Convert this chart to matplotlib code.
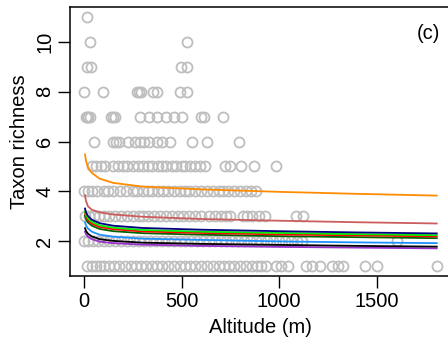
import matplotlib
matplotlib.use("Agg")
import matplotlib.pyplot as plt

plt.rcParams["font.family"] = ["Liberation Sans", "DejaVu Sans"]

# observed taxon richness per site (altitude in m), grouped by richness value
alt_r1 = [14, 40, 60, 80, 100, 130, 155, 180, 210, 240, 265, 290, 320, 350, 375, 400, 430,
          460, 490, 520, 545, 570, 600, 630, 660, 690, 720, 745, 770, 800, 830, 860, 885,
          910, 935, 985, 1010, 1045, 1140, 1170, 1210, 1270, 1300, 1330, 1443, 1505, 1809]
alt_r2 = [0, 20, 45, 70, 100, 130, 160, 190, 220, 250, 280, 310, 340, 370, 400, 430, 460,
          490, 520, 550, 580, 610, 640, 670, 700, 730, 760, 790, 820, 850, 880, 910, 940,
          970, 1000, 1030, 1060, 1090, 1120, 1603]
alt_r3 = [5, 25, 50, 75, 100, 130, 160, 190, 220, 250, 280, 300, 330, 360, 390, 420, 450,
          480, 510, 540, 570, 600, 640, 670, 700, 730, 750, 815, 835, 860, 895, 930, 1085, 1125]
alt_r4 = [0, 20, 40, 65, 100, 125, 150, 185, 215, 250, 270, 300, 330, 350, 380, 405, 430,
          460, 490, 520, 540, 570, 600, 630, 660, 690, 715, 740, 770, 800, 830, 855, 880]
alt_r5 = [40, 60, 85, 110, 150, 175, 200, 220, 250, 275, 300, 330, 350, 380, 400, 420, 450,
          470, 500, 520, 545, 570, 595, 620, 723, 749, 804, 870, 985]
alt_r6 = [52, 151, 165, 177, 228, 260, 289, 310, 331, 375, 400, 443, 555, 632, 795]
alt_r7 = [8, 15, 22, 30, 140, 150, 160, 289, 331, 375, 418, 460, 504, 600, 615, 712]
alt_r8 = [0, 96, 270, 280, 290, 355, 372, 492, 530]
alt_r9 = [17, 34, 495, 530]
alt_r10 = [31, 526]
alt_r11 = [14]

# fitted curves
alt_fit = [5, 10, 20, 40, 80, 150, 300, 600, 1000, 1400, 1809]
fit_orange = [5.48, 5.23, 4.98, 4.74, 4.51, 4.34, 4.19, 4.08, 3.98, 3.90, 3.83]
fit_indianred = [3.84, 3.62, 3.40, 3.26, 3.16, 3.07, 2.98, 2.89, 2.82, 2.76, 2.71]
fit_navy = [3.31, 3.16, 3.01, 2.86, 2.72, 2.62, 2.53, 2.46, 2.40, 2.35, 2.31]
fit_lime = [3.20, 3.06, 2.91, 2.77, 2.63, 2.54, 2.45, 2.38, 2.33, 2.28, 2.24]
fit_red = [3.12, 2.98, 2.84, 2.70, 2.57, 2.48, 2.39, 2.33, 2.27, 2.23, 2.19]
fit_darkgreen = [3.02, 2.89, 2.75, 2.62, 2.49, 2.40, 2.32, 2.26, 2.20, 2.16, 2.12]
fit_dodger = [2.76, 2.63, 2.51, 2.38, 2.26, 2.18, 2.10, 2.05, 1.99, 1.95, 1.92]
fit_black = [2.52, 2.41, 2.30, 2.19, 2.08, 2.01, 1.94, 1.89, 1.85, 1.81, 1.78]
fit_purple = [2.38, 2.28, 2.18, 2.08, 1.98, 1.92, 1.86, 1.81, 1.77, 1.74, 1.71]

rows = [alt_r1, alt_r2, alt_r3, alt_r4, alt_r5, alt_r6, alt_r7, alt_r8, alt_r9, alt_r10, alt_r11]
fits = [(fit_purple, "#9932CC"), (fit_black, "black"), (fit_dodger, "#1E90FF"),
        (fit_darkgreen, "#006400"), (fit_red, "red"), (fit_lime, "#00EE00"),
        (fit_navy, "#000080"), (fit_indianred, "#CD5C5C"), (fit_orange, "#FF8C00")]

fig = plt.figure(figsize=(4.48, 3.43), dpi=100)
ax = fig.add_axes([0.15625, 0.1953, 0.85, 0.784])

for i, xs in enumerate(rows):
    ax.plot(xs, [i + 1] * len(xs), "o", mfc="none", mec="#BEBEBE", ms=7.2, mew=1.3,
            linestyle="none")

for ys, col in fits:
    ax.plot(alt_fit, ys, color=col, lw=1.3)

ax.set_xlim(-72, 1881)
ax.set_ylim(0.6, 11.4)
ax.set_xticks([0, 500, 1000, 1500])
ax.set_yticks([2, 4, 6, 8, 10])
ax.tick_params(length=8.5, width=1.0, labelsize=14.5, pad=3)
for lab in ax.get_yticklabels():
    lab.set_rotation(90)
    lab.set_va("center")
for sp in ax.spines.values():
    sp.set_linewidth(1.1)

ax.set_xlabel("Altitude (m)", fontsize=14.5, labelpad=5)
ax.set_ylabel("Taxon richness", fontsize=14.5, labelpad=4)
ax.text(1765, 10.35, "(c)", fontsize=14.5, ha="center", va="center")

fig.savefig("out.png", dpi=100)
